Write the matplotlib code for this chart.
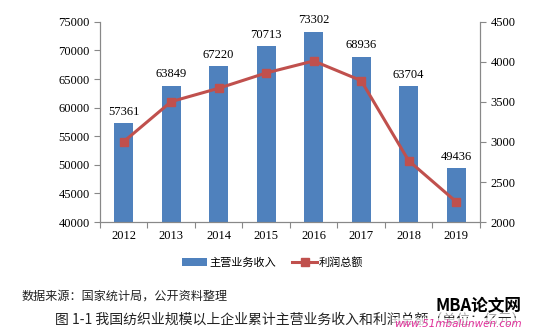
import matplotlib.pyplot as plt

years = ['2012', '2013', '2014', '2015', '2016', '2017', '2018', '2019']
revenue = [57361, 63849, 67220, 70713, 73302, 68936, 63704, 49436]
profit = [3004, 3504, 3671, 3862, 4012, 3766, 2766, 2254]

plt.rcParams['font.family'] = ['Liberation Serif', 'Noto Sans CJK SC']
cjk = ['Noto Sans CJK SC', 'DejaVu Sans']

fig = plt.figure(figsize=(5.46, 3.31), dpi=100)
ax = fig.add_axes([0.183, 0.329, 0.696, 0.605])
x = list(range(len(years)))

bars = ax.bar(x, revenue, width=0.4, color='#4F81BD', label='主营业务收入', zorder=2)
for xi, v in zip(x, revenue):
    ax.text(xi, v + 900, str(v), ha='center', va='bottom', fontsize=9)
ax.set_ylim(40000, 75000)
ax.set_yticks(range(40000, 75001, 5000))
ax.set_xlim(-0.5, len(years) - 0.5)
ax.set_xticks([i - 0.5 for i in range(len(years) + 1)])
ax.set_xticklabels([])
ax.set_xticks(x, minor=True)
ax.set_xticklabels(years, minor=True)
ax.tick_params(axis='x', which='minor', length=0, pad=6, labelsize=9)
ax.tick_params(axis='x', which='major', length=4, color='#888888')
ax.tick_params(axis='y', length=4, color='#888888', labelsize=9)

ax2 = ax.twinx()
line, = ax2.plot(x, profit, color='#C0504D', lw=2.2, marker='s', ms=6,
                 markerfacecolor='#C0504D', label='利润总额', zorder=3)
ax2.set_ylim(2000, 4500)
ax2.set_yticks(range(2000, 4501, 500))
ax2.tick_params(axis='y', length=4, color='#888888', labelsize=9)

for a in (ax, ax2):
    a.spines['top'].set_visible(False)
    for s in ('left', 'right', 'bottom'):
        a.spines[s].set_color('#888888')

leg = fig.legend([bars, line], ['主营业务收入', '利润总额'], loc='center',
                 bbox_to_anchor=(0.5, 0.208), ncol=2, frameon=False,
                 prop={'family': cjk, 'size': 8}, handlelength=2.2,
                 columnspacing=1.5, handletextpad=0.2)

fig.text(0.04, 0.106, '数据来源：国家统计局，公开资料整理', fontsize=8.7,
         family=cjk, va='center', color='#222222')
fig.text(0.1, 0.033, '图 1-1 我国纺织业规模以上企业累计主营业务收入和利润总额（单位：亿元）',
         fontsize=10, family=cjk, va='center', color='#222222')
fig.text(0.955, 0.075, 'MBA论文网', fontsize=12, family=cjk, fontweight='bold',
         style='italic', ha='right', va='center', color='black',
         bbox=dict(facecolor='white', edgecolor='none', alpha=0.6, pad=0.5))
fig.text(0.955, 0.022, 'www.51mbalunwen.com', fontsize=7.5, family=['DejaVu Sans'],
         style='italic', ha='right', va='center', color='#E0309A',
         bbox=dict(facecolor='white', edgecolor='none', alpha=0.7, pad=0.5))

fig.savefig('out.png', dpi=100)
